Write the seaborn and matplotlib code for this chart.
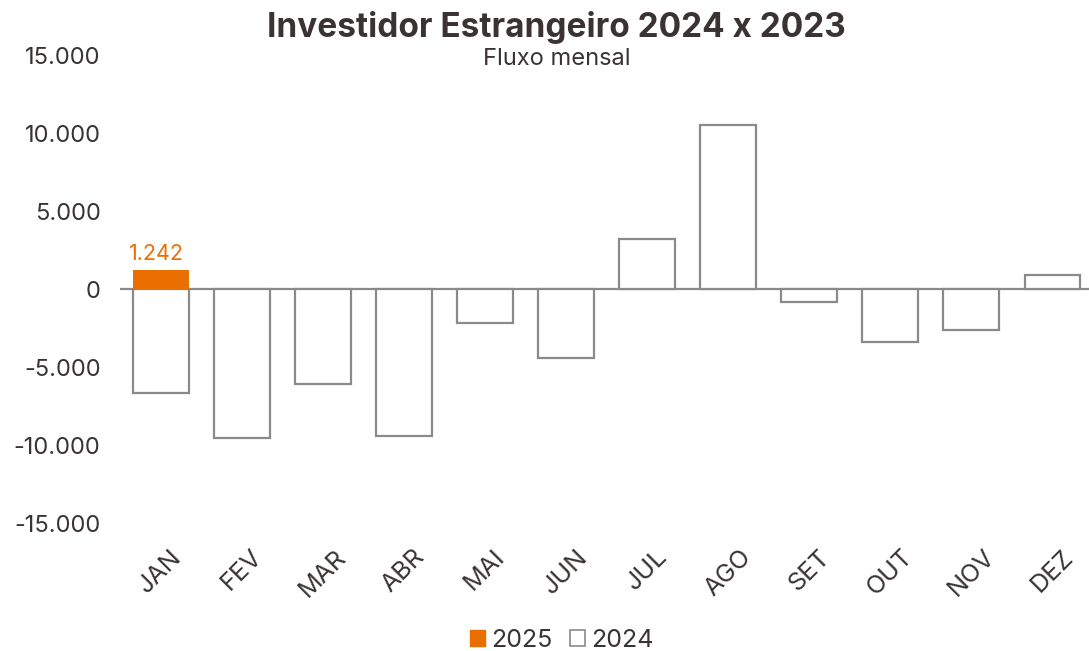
import matplotlib
matplotlib.use("Agg")
import matplotlib.pyplot as plt
from matplotlib.patches import Patch
import seaborn as sns
import pandas as pd
import numpy as np

months = ["JAN", "FEV", "MAR", "ABR", "MAI", "JUN", "JUL", "AGO", "SET", "OUT", "NOV", "DEZ"]
values_2024 = [-6670, -9580, -6120, -9410, -2160, -4410, 3200, 10500, -830, -3370, -2650, 890]
months_2025 = ["JAN"]
values_2025 = [1242]
yticks = [-15000, -10000, -5000, 0, 5000, 10000, 15000]
ytick_labels = ["-15.000", "-10.000", "-5.000", "0", "5.000", "10.000", "15.000"]

sns.set_style("white")
plt.rcParams["font.family"] = ["Inter", "DejaVu Sans"]

TXT = "#3b3333"
GRAY = "#8a8a8a"
ORANGE = "#E97000"

df24 = pd.DataFrame({"mes": months, "valor": values_2024})
df25 = pd.DataFrame({"mes": months_2025, "valor": values_2025})

fig = plt.figure(figsize=(10.89, 6.51), dpi=100)
ax = fig.add_axes([120 / 1089, 1 - 523 / 651, 1 - 120 / 1089, (523 - 55) / 651])

ax.axhline(0, color=GRAY, lw=1.6, zorder=1)
sns.barplot(data=df24, x="mes", y="valor", order=months, color="white",
            edgecolor=GRAY, linewidth=1.6, width=0.69, saturation=1, ax=ax, zorder=2)
sns.barplot(data=df25, x="mes", y="valor", order=months, color=ORANGE,
            edgecolor=ORANGE, linewidth=0, width=0.69, saturation=1, ax=ax, zorder=3)

for m, v in zip(months_2025, values_2025):
    xi = months.index(m)
    ax.text(xi - 0.05, v + 350, f"{v:,}".replace(",", "."), ha="center", va="bottom",
            color=ORANGE, fontsize=15.5)

ax.set_ylim(-15000, 15000)
ax.set_xlim(-0.5, 11.45)
ax.set_yticks(yticks)
ax.set_yticklabels(ytick_labels)
ax.set_xlabel("")
ax.set_ylabel("")
ax.tick_params(axis="y", labelsize=17, labelcolor=TXT, length=0, pad=14)
ax.tick_params(axis="x", labelsize=18, labelcolor=TXT, length=0, pad=16)
for lab in ax.get_xticklabels():
    lab.set_rotation(45)
    lab.set_ha("center")
for s in ax.spines.values():
    s.set_visible(False)
ax.grid(False)

fig.text(0.511, 0.958, "Investidor Estrangeiro 2024 x 2023", ha="center", va="center",
         fontsize=24, fontweight="bold", color=TXT)
fig.text(0.511, 0.909, "Fluxo mensal", ha="center", va="center", fontsize=17, color=TXT)

handles = [Patch(facecolor=ORANGE, edgecolor=ORANGE, label="2025"),
           Patch(facecolor="white", edgecolor=GRAY, linewidth=1.2, label="2024")]
fig.legend(handles=handles, loc="center", bbox_to_anchor=(0.516, 0.016), ncol=2,
           frameon=False, fontsize=18, handlelength=0.6, handleheight=0.6,
           handletextpad=0.25, columnspacing=0.7, labelcolor=TXT)

fig.savefig("out.png", dpi=100, facecolor="white")
